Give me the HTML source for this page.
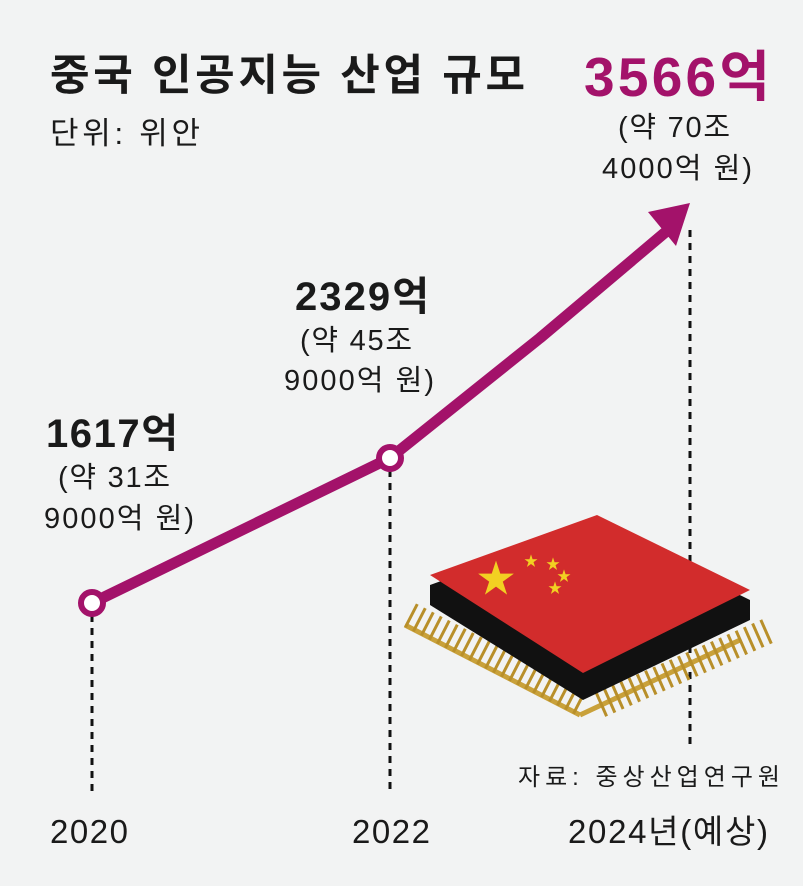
<!DOCTYPE html>
<html><head><meta charset="utf-8"><style>
body{margin:0;background:#f2f3f3;}
svg{display:block}
text{font-family:"Liberation Sans","Noto Sans CJK KR",sans-serif;fill:#1a1a1a}
</style></head><body>
<svg width="803" height="886" viewBox="0 0 803 886">
<rect width="803" height="886" fill="#f2f3f3"/>
<text x="50" y="90" font-size="43" font-weight="bold" textLength="475">중국 인공지능 산업 규모</text>
<text x="50" y="144" font-size="31" textLength="150">단위: 위안</text>
<g stroke="#111" stroke-width="3" stroke-dasharray="7,6">
<line x1="92" y1="615" x2="92" y2="795"/>
<line x1="390" y1="470" x2="390" y2="795"/>
<line x1="690" y1="230" x2="690" y2="745"/>
</g>
<polyline points="92,603 390,458 540,338 668,230" fill="none" stroke="#a3126a" stroke-width="11" stroke-linejoin="round"/>
<polygon points="690,203 648,212 676,246" fill="#a3126a"/>
<circle cx="92" cy="603" r="11" fill="#fff" stroke="#a3126a" stroke-width="6"/>
<circle cx="390" cy="458" r="11" fill="#fff" stroke="#a3126a" stroke-width="6"/>
<g>
<g stroke="#c9a13a" stroke-width="5">
<line x1="405" y1="625" x2="580" y2="715"/>
<line x1="580" y1="715" x2="740" y2="640"/>
</g>
<g stroke="#b88f2a" stroke-dasharray="3,6">
<path d="M410 615 L585 705" stroke-width="26"/>
<path d="M600 705 L770 630" stroke-width="26"/>
</g>
<polygon points="430,585 597,525 750,600 750,620 583,700 430,605" fill="#111"/>
<polygon points="430,575 597,515 750,590 583,673" fill="#d22c2c"/>
<text x="477" y="592" font-size="38" style="fill:#f2d022">★</text>
<text x="524" y="566" font-size="14" style="fill:#f2d022">★</text>
<text x="546" y="569" font-size="14" style="fill:#f2d022">★</text>
<text x="557" y="581" font-size="14" style="fill:#f2d022">★</text>
<text x="548" y="593" font-size="14" style="fill:#f2d022">★</text>
</g>
<text x="46" y="447" font-size="40" font-weight="bold" textLength="132">1617억</text>
<text x="58" y="487" font-size="29" textLength="112">(약 31조</text>
<text x="44" y="528" font-size="29" textLength="150">9000억 원)</text>
<text x="295" y="310" font-size="40" font-weight="bold" textLength="134">2329억</text>
<text x="300" y="350" font-size="29" textLength="112">(약 45조</text>
<text x="284" y="390" font-size="29" textLength="150">9000억 원)</text>
<text x="584" y="96" font-size="55" font-weight="bold" style="fill:#a3126a" textLength="186">3566억</text>
<text x="618" y="137" font-size="29" textLength="112">(약 70조</text>
<text x="602" y="178" font-size="29" textLength="150">4000억 원)</text>
<text x="518" y="785" font-size="24" textLength="262">자료: 중상산업연구원</text>
<text x="50" y="843" font-size="33" textLength="78">2020</text>
<text x="352" y="843" font-size="33" textLength="78">2022</text>
<text x="568" y="843" font-size="33" textLength="200">2024년(예상)</text>
</svg>
</body></html>
